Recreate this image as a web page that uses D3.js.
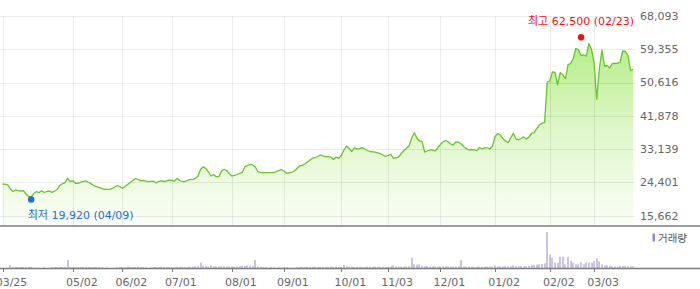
<!DOCTYPE html>
<html>
<head>
<meta charset="utf-8">
<script src="https://cdn.jsdelivr.net/npm/d3@7"></script>
<style>
body { margin: 0; background: #fff; }
text { font-family: "DejaVu Sans", "Noto Sans CJK KR", sans-serif; }
</style>
</head>
<body>
<script>
// daily close, 2025-03-25 .. 2026-03-24 (trading days)
let prices = [
    24010,23880,23750,22700,22040,22440,22250,22170,22250,21380,
    20730,20520,21570,21990,21730,22250,21780,22040,22170,21830,
    22170,22570,23620,24090,24350,25500,24660,24870,24190,24190,
    24530,24720,24800,24460,24090,23620,23300,23090,22880,22620,
    22620,22620,22780,23220,23620,23350,22880,23350,23880,24400,
    24930,25450,25190,24870,24870,24740,24610,24720,24740,24270,
    24720,24800,24660,24800,25010,24930,24740,25450,24930,24660,
    24610,24980,25140,25240,25500,26110,27810,28520,28080,27160,
    26110,26500,25920,25920,27340,27870,27470,26760,26110,26290,
    26500,26820,27030,28550,28810,29130,29000,28470,27290,27030,
    26980,26980,26980,26980,27030,27240,27550,27810,27420,26820,
    26950,27080,27420,28080,28730,28910,29260,29780,30310,30780,
    30960,31220,31620,31350,31170,31170,31040,30440,31090,30750,
    31490,32930,33930,33330,32540,33510,33250,33250,33540,33190,
    32800,32540,32460,32350,32200,31990,31620,31220,31490,31810,
    30750,30910,31090,32010,32800,33380,33980,36080,37470,36080,
    35340,35110,32410,32670,32930,32980,32670,33460,34370,35030,
    35420,35080,34500,34300,35080,34980,34500,33800,33270,32930,
    33060,32980,32750,33590,33250,33510,33510,33190,33900,36470,
    37260,36870,35950,35290,34850,36080,37310,35870,35610,35950,
    36340,35820,36340,37260,37470,38570,39490,39960,40090,50770,
    51040,53420,53270,49990,53270,52660,51690,55310,55630,56940,
    59560,59250,57730,57860,57600,60880,59300,55760,46230,54190,
    59170,54970,55100,54450,55630,55680,55680,56020,58910,58780,
    57730,53790,54100
];

// volume, thousand shares
let volumes = [
    30,30,30,500,180,200,190,210,200,180,
    220,200,40,40,40,40,150,40,40,180,
    200,190,210,200,250,1250,200,180,190,170,
    180,200,190,180,170,190,180,170,160,40,
    150,40,40,40,150,200,180,160,250,220,
    180,200,230,180,200,170,40,150,200,220,
    180,250,200,180,180,200,170,230,200,190,
    210,200,250,230,300,350,850,400,300,250,
    450,300,280,260,300,320,280,260,300,250,
    280,320,400,350,450,380,420,1250,300,250,
    200,180,40,180,150,40,170,40,180,150,
    40,40,40,180,200,220,180,250,200,230,
    260,220,200,240,230,200,260,220,240,230,
    210,500,280,220,230,200,240,250,220,200,
    260,240,230,280,260,220,240,200,230,300,
    450,230,220,260,240,300,320,1600,600,550,
    600,400,300,350,250,300,280,260,300,320,
    280,300,260,250,280,300,1250,300,250,280,
    260,240,250,270,230,260,250,280,240,450,
    300,270,280,350,300,320,450,300,280,350,
    300,320,350,450,500,550,600,650,750,5500,
    2100,1600,850,850,1750,1750,600,1750,1150,850,
    600,600,900,600,900,900,850,1100,1500,1050,
    600,450,450,380,300,300,230,380,350,350,
    300,300,300
];

let yTicks = [15662, 24401, 33139, 41878, 50616, 59355, 68093];
let xTickLabels = ['03/25','05/02','06/02','07/01','08/01','09/01','10/01','11/03','12/01','01/02','02/02','03/03'];
let xTickIndex  = [0, 27, 46, 65, 88, 108, 130, 148, 168, 189, 210, 227];

let hiValue = 62500, hiIndex = 222, hiLabel = '최고 62,500 (02/23)';
let loValue = 19920, loIndex = 11,  loLabel = '최저 19,920 (04/09)';
let volLegend = '거래량';

const W = 700, H = 289;
const LINE_GREEN = '#62c823';
const GRID = 'rgba(0,0,0,0.075)';
const AXIS_GREY = '#7c7c7c';
const TXT = '#666';
const VOL_PURPLE = '#9a86cb';

let svg = d3.select('body')
    .append('svg')
        .attr('width', W)
        .attr('height', H);

let x = d3.scaleLinear().domain([0, 242]).range([2.5, 633.2]);
let y = d3.scaleLinear().domain([15662, 68093]).range([215.8, 16]);
let yVol = d3.scaleLinear().domain([0, 6430]).range([268.3, 225.8]);

let priceBottom = 225.5;

// gradient for the area
let grad = svg.append('defs').append('linearGradient')
    .attr('id', 'fillg')
    .attr('gradientUnits', 'userSpaceOnUse')
    .attr('x1', 0).attr('y1', 40).attr('x2', 0).attr('y2', priceBottom);
grad.append('stop').attr('offset', 0).attr('stop-color', '#b4ec84');
grad.append('stop').attr('offset', 0.45).attr('stop-color', '#dcf6c6');
grad.append('stop').attr('offset', 1).attr('stop-color', '#fbfef8');

let idx = d3.range(prices.length);

svg.append('path')
    .datum(idx)
    .attr('fill', 'url(#fillg)')
    .attr('d', d3.area()
        .x(i => x(i))
        .y0(priceBottom)
        .y1(i => y(prices[i])));

// grid
svg.selectAll('.hgrid').data(yTicks).enter().append('line')
    .attr('x1', 0).attr('x2', 635)
    .attr('y1', d => Math.round(y(d)) + 0.5)
    .attr('y2', d => Math.round(y(d)) + 0.5)
    .attr('stroke', GRID).attr('stroke-width', 1);

svg.selectAll('.vgrid').data(xTickIndex).enter().append('line')
    .attr('x1', d => Math.round(x(d)) + 0.5)
    .attr('x2', d => Math.round(x(d)) + 0.5)
    .attr('y1', y(68093)).attr('y2', priceBottom)
    .attr('stroke', GRID).attr('stroke-width', 1);

// price line
svg.append('path')
    .datum(idx)
    .attr('fill', 'none')
    .attr('stroke', LINE_GREEN)
    .attr('stroke-width', 1.3)
    .attr('stroke-linejoin', 'round')
    .attr('d', d3.line()
        .x(i => x(i))
        .y(i => y(prices[i])));

// y labels
svg.selectAll('.ylab').data(yTicks).enter().append('text')
    .attr('x', 640)
    .attr('y', d => y(d))
    .attr('dy', '0.35em')
    .attr('font-size', 11)
    .attr('fill', TXT)
    .text(d => d3.format(',')(d));

// high / low marks
svg.append('circle')
    .attr('cx', x(hiIndex)).attr('cy', y(hiValue)).attr('r', 3.2)
    .attr('fill', '#ff0a0a');
svg.append('text')
    .attr('x', 634).attr('y', 25)
    .attr('text-anchor', 'end')
    .attr('font-size', 11)
    .attr('fill', '#ff1010')
    .text(hiLabel);

svg.append('circle')
    .attr('cx', x(loIndex)).attr('cy', y(loValue)).attr('r', 3.2)
    .attr('fill', '#1b6fd9');
svg.append('text')
    .attr('x', x(loIndex) - 3.5).attr('y', 219)
    .attr('font-size', 11)
    .attr('fill', '#1b6fd9')
    .text(loLabel);

// panel separator
svg.append('line')
    .attr('x1', 0).attr('x2', W)
    .attr('y1', 226).attr('y2', 226)
    .attr('stroke', AXIS_GREY).attr('stroke-width', 1.6);

// volume bars
svg.selectAll('.vol').data(idx).enter().append('rect')
    .attr('x', i => Math.round(x(i)) - 0.5)
    .attr('width', 1)
    .attr('y', i => yVol(volumes[i]))
    .attr('height', i => yVol(0) - yVol(volumes[i]))
    .attr('fill', VOL_PURPLE);

// volume legend
svg.append('rect')
    .attr('x', 652.5).attr('y', 233.5).attr('width', 2.5).attr('height', 8)
    .attr('fill', VOL_PURPLE);
svg.append('text')
    .attr('x', 658).attr('y', 238).attr('dy', '0.35em')
    .attr('font-size', 10.5)
    .attr('fill', '#555')
    .text(volLegend);

// bottom axis
svg.append('line')
    .attr('x1', 0).attr('x2', W)
    .attr('y1', 268.6).attr('y2', 268.6)
    .attr('stroke', AXIS_GREY).attr('stroke-width', 1.5);

svg.selectAll('.xtick').data(xTickIndex).enter().append('line')
    .attr('x1', d => Math.round(x(d)) + 0.5)
    .attr('x2', d => Math.round(x(d)) + 0.5)
    .attr('y1', 268).attr('y2', 272)
    .attr('stroke', AXIS_GREY).attr('stroke-width', 1);

svg.selectAll('.xlab').data(xTickIndex).enter().append('text')
    .attr('x', d => x(d) + 9)
    .attr('y', 286)
    .attr('text-anchor', 'middle')
    .attr('font-size', 11)
    .attr('fill', TXT)
    .text((d, k) => xTickLabels[k]);
</script>
</body>
</html>
